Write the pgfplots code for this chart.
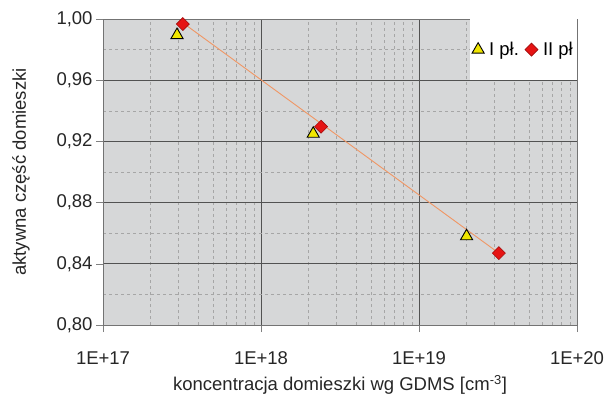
\documentclass[border=0pt]{standalone}
\usepackage{fontspec}
\setmainfont{Liberation Sans}
\usepackage{pgfplots}
\pgfplotsset{compat=1.18}
\definecolor{bg}{RGB}{214,215,216}
\definecolor{trend}{RGB}{240,150,100}
\definecolor{triy}{RGB}{240,230,0}
\definecolor{dia}{RGB}{230,20,20}
\begin{document}
\begin{tikzpicture}
\begin{axis}[
  scale only axis, width=474pt, height=306pt,
  xmode=log, log basis x=10,
  xmin=1e17, xmax=1e20, ymin=0.8, ymax=1.0,
  xtick={1e17,1e18,1e19,1e20},
  xticklabels={1E+17,1E+18,1E+19,1E+20},
  minor xtick={2e17,3e17,4e17,5e17,6e17,7e17,8e17,9e17,2e18,3e18,4e18,5e18,6e18,7e18,8e18,9e18,2e19,3e19,4e19,5e19,6e19,7e19,8e19,9e19},
  ytick={0.80,0.84,0.88,0.92,0.96,1.00},
  minor ytick={0.82,0.86,0.90,0.94,0.98},
  yticklabel style={/pgf/number format/.cd, fixed, fixed zerofill, precision=2, use comma},
  /pgf/number format/assume math mode=true,
  tick label style={font=\fontsize{18.5}{22}\selectfont, black!85},
  xticklabel style={yshift=-16pt},
  label style={font=\fontsize{18.5}{22}\selectfont, black!85},
  grid=both,
  major grid style={black!68, line width=0.9pt},
  minor grid style={black!35, dashed, line width=0.5pt},
  tick align=outside, major tick length=7pt, minor tick length=0pt,
  xtick pos=bottom, ytick pos=left,
  axis line style={black!55, line width=0.8pt},
  axis background/.style={fill=bg},
  xlabel={koncentracja domieszki wg GDMS [cm\textsuperscript{-3}]},
  ylabel={aktywna część domieszki},
  xlabel style={yshift=-4pt},
  ylabel style={yshift=20pt},
  legend columns=2,
  legend style={at={(1,1)}, anchor=north east, fill=white, draw=none,
    font=\fontsize{18.5}{22}\selectfont, inner ysep=21pt, inner xsep=2pt,
    /tikz/every odd column/.append style={column sep=3pt},
    /tikz/every even column/.append style={column sep=4pt}},
  legend cell align=left,
]
\addplot[trend, line width=0.9pt, forget plot] coordinates {(3.2e17,0.9975) (3.2e19,0.847)};
\addplot[only marks, mark=triangle*, mark size=7pt, mark options={fill=triy, draw=black, line width=0.9pt}]
  coordinates {(2.94e17,0.9895) (2.14e18,0.925) (2.0e19,0.858)};
\addlegendentry{I pł.}
\addplot[only marks, mark=square*, mark size=4.6pt, mark options={rotate=45, fill=dia, draw=dia!70!black, line width=0.6pt}]
  coordinates {(3.2e17,0.9967) (2.4e18,0.9296) (3.2e19,0.847)};
\addlegendentry{II pł}
\end{axis}
\pgfresetboundingbox
\path[use as bounding box] ([shift={(-103pt,-74pt)}]current axis.south west) rectangle ([shift={(31pt,19pt)}]current axis.north east);
\end{tikzpicture}
\end{document}
